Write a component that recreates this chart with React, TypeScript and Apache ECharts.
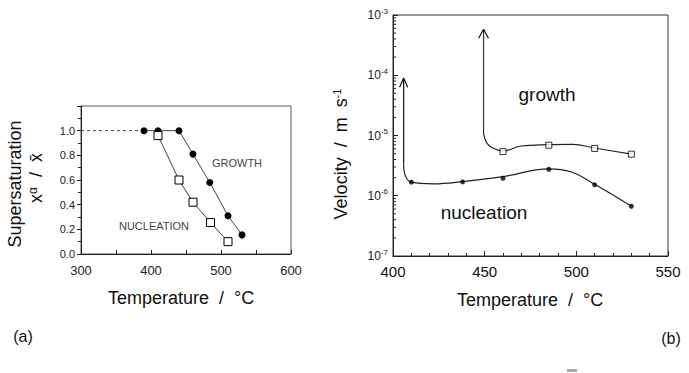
import React, { useEffect, useRef } from "react";
import * as echarts from "echarts";

// ---- Panel (a): supersaturation vs temperature ----
const tempGrowthA = [390, 410, 440, 460, 484, 510, 530];
const satGrowthA = [1.0, 1.0, 1.0, 0.81, 0.58, 0.31, 0.155];
const tempNucA = [410, 440, 460, 485, 510];
const satNucA = [0.96, 0.6, 0.42, 0.255, 0.1];
const dashedT = [300, 390];
const dashedS = [1.0, 1.0];

// ---- Panel (b): velocity vs temperature (log) ----
const tempNucB = [410, 438, 460, 485, 510, 530];
const velNucB = [1.68e-6, 1.7e-6, 1.95e-6, 2.75e-6, 1.52e-6, 6.7e-7];
const tempGrowthB = [460, 485, 510, 530];
const velGrowthB = [5.4e-6, 6.9e-6, 6.1e-6, 4.9e-6];

// fitted curves
const nucCurveT = [405.8, 406.6, 410, 422, 438, 460, 485, 497, 510, 530];
const nucCurveV = [3.4e-6, 2.2e-6, 1.68e-6, 1.58e-6, 1.72e-6, 2.08e-6, 2.8e-6, 2.5e-6, 1.55e-6, 6.7e-7];
const nucShaftT = [405.8, 405.8];
const nucShaftV = [9e-5, 3.4e-6];
const nucHeadT = [403.6, 405.8, 408.0];
const nucHeadV = [6.3e-5, 9e-5, 6.3e-5];

const growthCurveT = [449.4, 451.3, 455, 460, 470, 485, 498, 510, 530];
const growthCurveV = [1.05e-5, 7.4e-6, 6.1e-6, 5.55e-6, 6.7e-6, 7.05e-6, 7.15e-6, 6.2e-6, 4.9e-6];
const growthShaftT = [449.4, 449.4];
const growthShaftV = [5.8e-4, 1.05e-5];
const growthHeadT = [446.7, 449.4, 452.1];
const growthHeadV = [4.1e-4, 5.8e-4, 4.1e-4];

const logMinorTicks: number[] = [];
for (const d of [-7, -6, -5, -4]) {
  for (const m of [2, 3, 4, 5, 6, 7, 8, 9]) logMinorTicks.push(m * Math.pow(10, d));
}

const zip = (a: number[], b: number[]) => a.map((v, i) => [v, b[i]]);

const FONT = "Liberation Sans";

export default function App() {
  const ref = useRef<HTMLDivElement>(null);
  useEffect(() => {
    if (!ref.current) return;
    const chart = echarts.init(ref.current, undefined, { renderer: "svg" });
    const lineCol = "#444";
    const axisCol = "#222";
    chart.setOption({
      animation: false,
      textStyle: { fontFamily: FONT },
      grid: [
        { left: 81, top: 106, width: 210, height: 148, show: true, borderColor: "#555", borderWidth: 1 },
        { left: 393, top: 15, width: 275, height: 241, show: true, borderColor: "#333", borderWidth: 1 },
      ],
      xAxis: [
        {
          gridIndex: 0, type: "value", min: 300, max: 600, interval: 100,
          axisLine: { lineStyle: { color: axisCol } },
          axisTick: { inside: true, length: 4, lineStyle: { color: axisCol } },
          minorTick: { show: true, splitNumber: 2, length: 4, lineStyle: { color: axisCol } },
          axisLabel: { fontSize: 13, margin: 10, color: "#222", fontFamily: FONT },
          splitLine: { show: false },
        },
        {
          gridIndex: 1, type: "value", min: 400, max: 550, interval: 50,
          axisLine: { lineStyle: { color: axisCol } },
          axisTick: { inside: true, length: 5, lineStyle: { color: axisCol } },
          minorTick: { show: true, splitNumber: 5, length: 3, lineStyle: { color: axisCol } },
          axisLabel: { fontSize: 15, margin: 8, color: "#111", fontFamily: FONT },
          splitLine: { show: false },
        },
      ],
      yAxis: [
        {
          gridIndex: 0, type: "value", min: 0, max: 1.2, interval: 0.2,
          axisLine: { show: true, lineStyle: { color: axisCol } },
          axisTick: { show: true, inside: false, length: 4, lineStyle: { color: axisCol } },
          minorTick: { show: true, splitNumber: 2, length: 3, lineStyle: { color: axisCol } },
          axisLabel: {
            fontSize: 11, margin: 6, color: "#222", fontFamily: FONT,
            formatter: (v: number) => (v > 1.05 ? "" : v.toFixed(1)),
          },
          splitLine: { show: false },
        },
        {
          gridIndex: 1, type: "log", logBase: 10, min: 1e-7, max: 1e-3,
          axisLine: { show: true, lineStyle: { color: axisCol } },
          axisTick: { show: true, inside: true, length: 5, lineStyle: { color: axisCol } },
          axisLabel: {
            margin: 5, color: "#222", fontFamily: FONT,
            formatter: (v: number) => "{b|10}{s|" + Math.round(Math.log10(v)) + "}",
            rich: {
              b: { fontSize: 12, fontFamily: FONT, color: "#222" },
              s: { fontSize: 8, fontFamily: FONT, color: "#222", verticalAlign: "top", padding: [0, 0, 8, 0] },
            },
          },
          splitLine: { show: false },
        },
      ],
      series: [
        {
          type: "line", xAxisIndex: 0, yAxisIndex: 0, data: zip(dashedT, dashedS),
          symbol: "none", lineStyle: { color: "#444", width: 1, type: [3, 3] },
        },
        {
          type: "line", xAxisIndex: 0, yAxisIndex: 0, data: zip(tempGrowthA, satGrowthA),
          symbol: "circle", symbolSize: 7, itemStyle: { color: "#000" },
          lineStyle: { color: lineCol, width: 1 },
        },
        {
          type: "line", xAxisIndex: 0, yAxisIndex: 0, data: zip(tempNucA, satNucA),
          symbol: "rect", symbolSize: 8,
          itemStyle: { color: "#fff", borderColor: "#000", borderWidth: 1 },
          lineStyle: { color: lineCol, width: 1 },
        },
        // panel b curves
        {
          type: "line", xAxisIndex: 1, yAxisIndex: 1, data: zip(nucShaftT, nucShaftV),
          symbol: "none", lineStyle: { color: "#111", width: 1.2 },
        },
        {
          type: "line", xAxisIndex: 1, yAxisIndex: 1, data: zip(nucHeadT, nucHeadV),
          symbol: "none", lineStyle: { color: "#111", width: 1.2 },
        },
        {
          type: "line", xAxisIndex: 1, yAxisIndex: 1, data: zip(nucCurveT, nucCurveV),
          symbol: "none", smooth: 0.4, lineStyle: { color: "#222", width: 1.2 },
        },
        {
          type: "line", xAxisIndex: 1, yAxisIndex: 1, data: zip(growthShaftT, growthShaftV),
          symbol: "none", lineStyle: { color: "#333", width: 1.2 },
        },
        {
          type: "line", xAxisIndex: 1, yAxisIndex: 1, data: zip(growthHeadT, growthHeadV),
          symbol: "none", lineStyle: { color: "#111", width: 1.2 },
        },
        {
          type: "line", xAxisIndex: 1, yAxisIndex: 1, data: zip(growthCurveT, growthCurveV),
          symbol: "none", smooth: 0.4, lineStyle: { color: "#222", width: 1.2 },
        },
        {
          type: "scatter", xAxisIndex: 1, yAxisIndex: 1, data: zip(tempNucB, velNucB),
          symbol: "circle", symbolSize: 5, itemStyle: { color: "#000" }, z: 5,
        },
        {
          type: "scatter", xAxisIndex: 1, yAxisIndex: 1, data: zip(tempGrowthB, velGrowthB),
          symbol: "rect", symbolSize: 6,
          itemStyle: { color: "#fff", borderColor: "#000", borderWidth: 1 }, z: 5,
        },
        {
          type: "custom", xAxisIndex: 1, yAxisIndex: 1, silent: true,
          data: logMinorTicks.map((v) => [400, v]),
          encode: { x: 0, y: 1 },
          renderItem: (params: any, api: any) => {
            const p = api.coord([api.value(0), api.value(1)]);
            return {
              type: "line",
              shape: { x1: p[0], y1: p[1], x2: p[0] + 3, y2: p[1] },
              style: { stroke: "#222", lineWidth: 1 },
            };
          },
        },
      ],
      graphic: [
        { type: "text", x: 15, y: 184, rotation: Math.PI / 2,
          style: { text: "Supersaturation", font: `18px "${FONT}"`, fill: "#111", align: "center", verticalAlign: "middle" } },
        { type: "text", x: 36, y: 178, rotation: Math.PI / 2,
          style: {
            text: "{a|x}{s|α}{a|  /  x\u0304}", align: "center", verticalAlign: "middle",
            rich: {
              a: { fontSize: 18, fontFamily: FONT, fill: "#111" },
              s: { fontSize: 12, fontFamily: FONT, fill: "#111", verticalAlign: "top", padding: [0, 0, 6, 0] },
            },
          } },
        { type: "text", x: 181, y: 298,
          style: { text: "Temperature  /  °C", font: `18px "${FONT}"`, fill: "#111", align: "center", verticalAlign: "middle" } },
        { type: "text", x: 530, y: 300,
          style: { text: "Temperature  /  °C", font: `18px "${FONT}"`, fill: "#111", align: "center", verticalAlign: "middle" } },
        { type: "text", x: 341, y: 154, rotation: Math.PI / 2,
          style: {
            text: "{a|Velocity  /  m  s}{s|-1}", align: "center", verticalAlign: "middle",
            rich: {
              a: { fontSize: 18, fontFamily: FONT, fill: "#111" },
              s: { fontSize: 11, fontFamily: FONT, fill: "#111", verticalAlign: "top", padding: [0, 0, 8, 0] },
            },
          } },
        { type: "text", x: 237, y: 163,
          style: { text: "GROWTH", font: `11px "${FONT}"`, fill: "#444", align: "center", verticalAlign: "middle" } },
        { type: "text", x: 154, y: 226,
          style: { text: "NUCLEATION", font: `11px "${FONT}"`, fill: "#444", align: "center", verticalAlign: "middle" } },
        { type: "text", x: 547, y: 94,
          style: { text: "growth", font: `19px "${FONT}"`, fill: "#111", align: "center", verticalAlign: "middle" } },
        { type: "text", x: 484, y: 212,
          style: { text: "nucleation", font: `19px "${FONT}"`, fill: "#111", align: "center", verticalAlign: "middle" } },
        { type: "text", x: 23, y: 336,
          style: { text: "(a)", font: `16px "${FONT}"`, fill: "#111", align: "center", verticalAlign: "middle" } },
        { type: "text", x: 671, y: 338,
          style: { text: "(b)", font: `16px "${FONT}"`, fill: "#111", align: "center", verticalAlign: "middle" } },
        { type: "rect", shape: { x: 567, y: 369, width: 10, height: 3 }, style: { fill: "#aaa" } },
      ],
    });
    return () => chart.dispose();
  }, []);
  return (
    <div
      ref={ref}
      style={{ position: "fixed", left: 0, top: 0, width: 689, height: 373, background: "#fff" }}
    />
  );
}
